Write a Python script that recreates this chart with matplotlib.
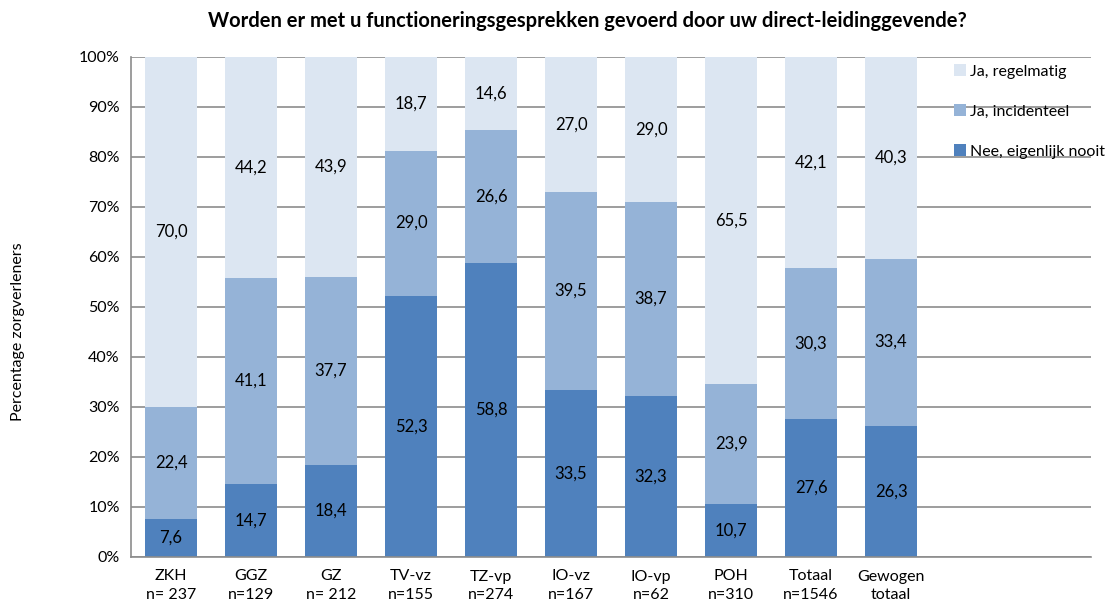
import matplotlib
matplotlib.use("Agg")
import matplotlib.pyplot as plt
import numpy as np

categories = ["ZKH\nn= 237", "GGZ\nn=129", "GZ\nn= 212", "TV-vz\nn=155", "TZ-vp\nn=274",
              "IO-vz\nn=167", "IO-vp\nn=62", "POH\nn=310", "Totaal\nn=1546", "Gewogen\ntotaal"]
nee = [7.6, 14.7, 18.4, 52.3, 58.8, 33.5, 32.3, 10.7, 27.6, 26.3]
incidenteel = [22.4, 41.1, 37.7, 29.0, 26.6, 39.5, 38.7, 23.9, 30.3, 33.4]
regelmatig = [70.0, 44.2, 43.9, 18.7, 14.6, 27.0, 29.0, 65.5, 42.1, 40.3]
series_names = ["Nee, eigenlijk nooit", "Ja, incidenteel", "Ja, regelmatig"]
colors = ["#4F81BD", "#95B3D7", "#DCE6F2"]
yticks = [0, 10, 20, 30, 40, 50, 60, 70, 80, 90, 100]

plt.rcParams['font.family'] = ['Lato', 'DejaVu Sans']

fig = plt.figure(figsize=(11.13, 6.10), dpi=100)
ax = fig.add_axes([131/1113, 1-557/610, 960/1113, 500/610])

x = np.arange(len(categories))
bottom = np.zeros(len(categories))
handles = []
for vals, name, col in zip([nee, incidenteel, regelmatig], series_names, colors):
    vals = np.array(vals)
    b = ax.bar(x, vals, width=0.65, bottom=bottom, color=col, label=name, zorder=2)
    handles.append(b)
    for xi, v, bt in zip(x, vals, bottom):
        ax.text(xi, bt + v/2, f"{v:.1f}".replace(".", ","), ha="center", va="center",
                fontsize=12, color="black", zorder=3)
    bottom = bottom + vals

ax.set_xlim(-0.5, 11.5)
ax.set_ylim(0, 100)
ax.set_yticks(yticks)
ax.set_yticklabels([f"{t}%" for t in yticks], fontsize=11.5)
ax.set_xticks(x)
ax.set_xticklabels(categories, fontsize=11.5, linespacing=1.45)
ax.tick_params(axis="both", length=0, pad=8)
ax.tick_params(axis="x", pad=9)
ax.yaxis.grid(True, color="#8C8C8C", linewidth=1.2, zorder=0)
ax.set_axisbelow(True)
for s in ["top", "right"]:
    ax.spines[s].set_visible(False)
for s in ["left", "bottom"]:
    ax.spines[s].set_color("#8C8C8C")
    ax.spines[s].set_linewidth(1.2)

leg = ax.legend(handles[::-1], series_names[::-1], loc="upper left",
                bbox_to_anchor=(940/1113, 1-50/610), bbox_transform=fig.transFigure,
                frameon=False, fontsize=11.5, handlelength=0.7, handleheight=0.7,
                handletextpad=0.3, labelspacing=1.62)

fig.text(0.528, 1-21/610, "Worden er met u functioneringsgesprekken gevoerd door uw direct-leidinggevende?",
         ha="center", va="center", fontsize=14.5, fontweight="bold")
fig.text(18/1113, 1-332/610, "Percentage zorgverleners", rotation=90, ha="center", va="center", fontsize=11.5)

fig.savefig("out.png", dpi=100)
